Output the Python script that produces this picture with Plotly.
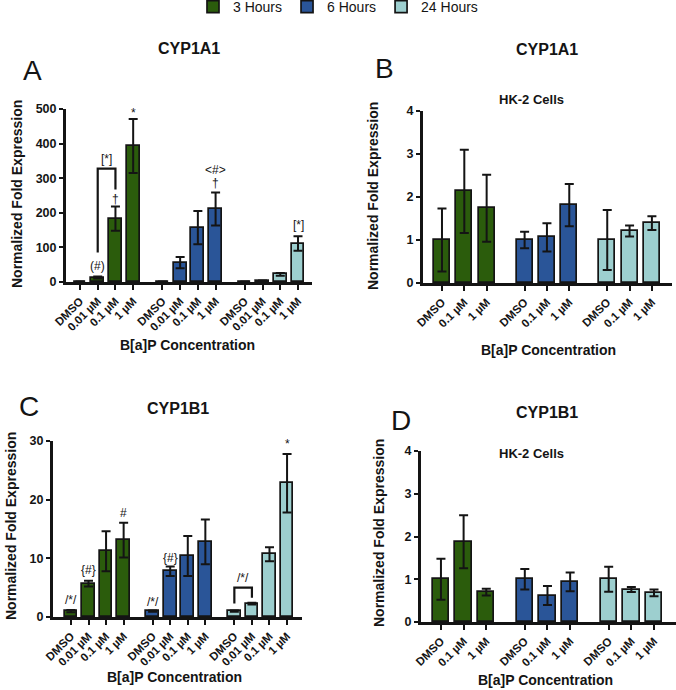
import plotly.graph_objects as go

W, H = 676, 690
FONT = "Liberation Sans, Arial, sans-serif"
INK = "#141414"

# ---------------- data ----------------
time_groups = ["3 Hours", "6 Hours", "24 Hours"]
colors = ["#2b5c0c", "#2a5598", "#9dcfcf"]

conc_four = ["DMSO", "0.01 µM", "0.1 µM", "1 µM"]   # panels A, C
conc_three = ["DMSO", "0.1 µM", "1 µM"]             # panels B, D

a_mean = [[1, 13, 183, 393], [1, 56, 157, 211], [1, 3, 22, 111]]
a_err = [[0.5, 3, 35, 78], [0.5, 16, 48, 48], [0.3, 1, 4, 21]]

b_mean = [[1.0, 2.13, 1.74], [1.0, 1.06, 1.81], [1.0, 1.21, 1.39]]
b_err = [[0.73, 0.97, 0.78], [0.19, 0.33, 0.49], [0.70, 0.13, 0.16]]

c_mean = [[1.0, 5.7, 11.2, 13.1], [1.0, 7.8, 10.4, 12.8], [1.0, 2.3, 10.7, 22.8]]
c_err = [[0.2, 0.5, 3.4, 2.95], [0.1, 0.8, 3.4, 3.8], [0.1, 0.15, 1.2, 5.0]]

d_mean = [[1.0, 1.88, 0.70], [1.0, 0.62, 0.94], [1.0, 0.76, 0.68]]
d_err = [[0.48, 0.62, 0.08], [0.24, 0.22, 0.22], [0.29, 0.06, 0.08]]

# significance marks: (group, bar, label)
a_sig = [(0, 1, "(#)"), (0, 2, "†"), (0, 3, "*"), (1, 3, "†"), (1, 3, "<#>"), (2, 3, "[*]")]
a_brackets = [((0, 1), (0, 2), "[*]")]
c_sig = [(0, 0, "/*/"), (0, 1, "{#}"), (0, 3, "#"), (1, 0, "/*/"), (1, 1, "{#}"), (2, 3, "*")]
c_brackets = [((2, 0), (2, 1), "/*/")]

# ---------------- layout helpers ----------------
def px(x):
    return x / W


def py(y):
    return 1 - y / H


panels = [
    dict(m=a_mean, e=a_err, conc=conc_four, goff=4.65, xr=[-0.79, 13.09], yr=[0, 500],
         yt=[0, 100, 200, 300, 400, 500], dom=(66, 312, 109, 282)),
    dict(m=b_mean, e=b_err, conc=conc_three, goff=3.7, xr=[-0.85, 10.3], yr=[0, 4],
         yt=[0, 1, 2, 3, 4], dom=(423, 672, 111, 283)),
    dict(m=c_mean, e=c_err, conc=conc_four, goff=4.65, xr=[-1.02, 13.15], yr=[0, 30],
         yt=[0, 10, 20, 30], dom=(53, 302, 441, 617)),
    dict(m=d_mean, e=d_err, conc=conc_three, goff=3.7, xr=[-0.88, 10.37], yr=[0, 4],
         yt=[0, 1, 2, 3, 4], dom=(421, 676, 451, 622)),
]

fig = go.Figure()

for k, p in enumerate(panels):
    ax = "" if k == 0 else str(k + 1)
    xa, ya = "x" + ax, "y" + ax
    tickvals, ticktext = [], []
    for g, name in enumerate(time_groups):
        xs = [g * p["goff"] + i for i in range(len(p["conc"]))]
        tickvals += xs
        ticktext += p["conc"]
        fig.add_trace(go.Bar(
            x=xs, y=p["m"][g], width=0.72, name=name, legendgroup=name,
            showlegend=(k == 0),
            marker=dict(color=colors[g], line=dict(color=INK, width=1.7)),
            error_y=dict(type="data", array=p["e"][g], visible=True,
                         color=INK, thickness=2, width=4.5),
            xaxis=xa, yaxis=ya, hoverinfo="skip",
        ))
    x0, x1, yt, yb = p["dom"]
    common = dict(showline=True, linewidth=3, linecolor=INK, ticks="outside",
                  ticklen=5, tickwidth=2, tickcolor=INK, showgrid=False,
                  zeroline=False, fixedrange=True, automargin=False)
    fig.update_layout(**{
        "xaxis" + ax: dict(common, domain=[px(x0), px(x1)], range=p["xr"],
                           tickvals=tickvals, ticktext=ticktext, tickangle=-45,
                           anchor=ya,
                           tickfont=dict(family=FONT, size=11.5, color=INK, weight="bold")),
        "yaxis" + ax: dict(common, domain=[py(yb), py(yt)], range=p["yr"],
                           tickvals=p["yt"], anchor=xa, ticklen=4,
                           tickfont=dict(family=FONT, size=12.5, color=INK, weight="bold")),
    })

annotations = []
shapes = []


def data_top(p, g, i):
    return p["m"][g][i] + p["e"][g][i]


def px_to_data(p, pix):
    x0, x1, yt, yb = p["dom"]
    return pix * (p["yr"][1] - p["yr"][0]) / (yb - yt)


sig_shift = {
    0: [10, 8, 6, 9, 22, 11],
    2: [10, 11, 10, 9, 9, 10],
}
sig_lists = {0: a_sig, 2: c_sig}
for k, sig in sig_lists.items():
    p = panels[k]
    ax = "" if k == 0 else str(k + 1)
    for (g, i, lab), sh in zip(sig, sig_shift[k]):
        annotations.append(dict(
            x=g * p["goff"] + i, y=data_top(p, g, i), xref="x" + ax, yref="y" + ax,
            text=lab, showarrow=False, yanchor="middle", yshift=sh,
            font=dict(family=FONT, size=12, color=INK)))

bracket_pads = {0: (24, 17, 38, 10), 2: (7, 5, 15, 10)}
bracket_lists = {0: a_brackets, 2: c_brackets}
for k, brs in bracket_lists.items():
    p = panels[k]
    ax = "" if k == 0 else str(k + 1)
    lp, rp, tp, txp = bracket_pads[k]
    for (ga, ia), (gb, ib), lab in brs:
        xa_ = ga * p["goff"] + ia
        xb_ = gb * p["goff"] + ib
        ta, tb = data_top(p, ga, ia), data_top(p, gb, ib)
        top = max(ta, tb) + px_to_data(p, tp)
        path = (f"M {xa_} {ta + px_to_data(p, lp)} L {xa_} {top} "
                f"L {xb_} {top} L {xb_} {tb + px_to_data(p, rp)}")
        shapes.append(dict(type="path", path=path, xref="x" + ax, yref="y" + ax,
                           line=dict(color=INK, width=2.2)))
        annotations.append(dict(
            x=(xa_ + xb_) / 2, y=top, xref="x" + ax, yref="y" + ax, text=lab,
            showarrow=False, yanchor="middle", yshift=txp,
            font=dict(family=FONT, size=12, color=INK)))


def txt(x, y, s, size, bold=False, angle=0):
    annotations.append(dict(
        x=px(x), y=py(y), xref="paper", yref="paper", text=s, showarrow=False,
        xanchor="center", yanchor="middle", textangle=angle,
        font=dict(family=FONT, size=size, color=INK, weight="bold" if bold else "normal")))


txt(32, 70, "A", 28)
txt(384, 69, "B", 28)
txt(29, 406, "C", 28)
txt(401, 421, "D", 28)
txt(189, 48, "CYP1A1", 16, True)
txt(547, 50, "CYP1A1", 16, True)
txt(178, 408, "CYP1B1", 16, True)
txt(547, 412, "CYP1B1", 16, True)
txt(531, 100, "HK-2 Cells", 13, True)
txt(531, 453, "HK-2 Cells", 13, True)
for xx, yy in [(188, 345), (548, 350), (174, 677), (545, 680)]:
    txt(xx, yy, "B[a]P Concentration", 14, True)
for xx, yy in [(17, 194), (373, 196), (11, 526), (379, 533)]:
    txt(xx, yy, "Normalized Fold Expression", 14, True, -90)

fig.update_layout(
    width=W, height=H, margin=dict(l=0, r=0, t=0, b=0, pad=0, autoexpand=False),
    paper_bgcolor="white", plot_bgcolor="white",
    annotations=annotations, shapes=shapes,
    legend=dict(orientation="h", x=0.5, xanchor="center", y=1.013, yanchor="top",
                font=dict(family=FONT, size=14, color=INK), itemwidth=30,
                bgcolor="rgba(0,0,0,0)"),
    bargap=0,
)

fig.write_html("out.html", config={"displayModeBar": False},
               post_script="document.body.style.margin='0px';document.body.style.overflow='hidden';")
